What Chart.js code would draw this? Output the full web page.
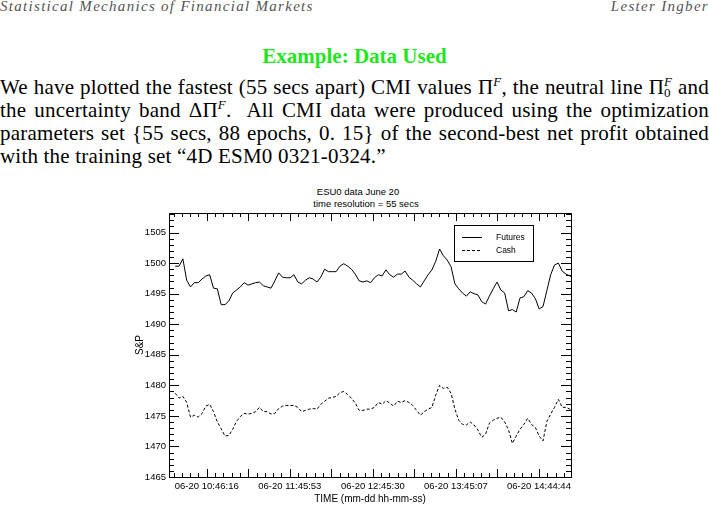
<!DOCTYPE html>
<html>
<head>
<meta charset="utf-8">
<script src="https://cdn.jsdelivr.net/npm/chart.js@4.4.1/dist/chart.umd.min.js"></script>
<style>
  html, body { margin: 0; padding: 0; background: #fff; }
  body { width: 709px; height: 505px; position: relative; overflow: hidden;
         font-family: "Liberation Serif", "Times New Roman", serif; color: #000; }
  .hdr { position: absolute; top: -2px; font-style: italic; font-size: 15px; color: #555; letter-spacing: 1.3px; }
  #hdrL { left: 0; }
  #hdrR { right: 0; }
  #title { position: absolute; top: 44px; left: 0; width: 709px; text-align: center;
           font-weight: bold; font-size: 21px; color: #1ee61e; }
  #para { position: absolute; top: 76px; left: 0; width: 709px; font-size: 21px; line-height: 23px; letter-spacing: 0.2px; }
  .ln { text-align: justify; text-align-last: justify; white-space: nowrap; height: 23px; }
  .ln.last { text-align: left; text-align-last: left; }
  sup { font-size: 13px; line-height: 0; vertical-align: 8px; }
  .ss { display: inline-block; font-size: 13px; line-height: 11px; vertical-align: -3px; text-align: center; }
  .ct { position: absolute; width: 200px; text-align: center;
        font-family: "Liberation Sans", Arial, sans-serif; font-size: 9.5px; line-height: 12px; }
  #c { position: absolute; left: 130px; top: 200px; }
</style>
</head>
<body>
<div class="hdr" id="hdrL">Statistical Mechanics of Financial Markets</div>
<div class="hdr" id="hdrR">Lester Ingber</div>
<div id="title">Example: Data Used</div>
<div id="para">
  <div class="ln">We have plotted the fastest (55 secs apart) CMI values &Pi;<sup><i>F</i></sup>, the neutral line &Pi;<span class="ss"><i>F</i><br>0</span> and</div>
  <div class="ln">the uncertainty band &Delta;&Pi;<sup><i>F</i></sup>.&nbsp; All CMI data were produced using the optimization</div>
  <div class="ln">parameters set {55 secs, 88 epochs, 0. 15} of the second-best net profit obtained</div>
  <div class="ln last">with the training set &ldquo;4D ESM0 0321-0324.&rdquo;</div>
</div>
<div class="ct" style="left:258px;top:186px">ESU0 data June 20</div>
<div class="ct" style="left:266px;top:198px">time resolution = 55 secs</div>
<canvas id="c" width="470" height="305"></canvas>
<script>
// sampled every 3rd 55-sec quote
const startTime = "10:23:38";
const stepSecs = 165;
const xRange = ["10:19:11", "15:07:43"];
const xTickLabels = ["06-20 10:46:16", "06-20 11:45:53", "06-20 12:45:30", "06-20 13:45:07", "06-20 14:44:44"];
const yTickValues = [1465, 1470, 1475, 1480, 1485, 1490, 1495, 1500, 1505];
const yRange = [1465, 1508.2];

const futures = [
  1499.5, 1499.5, 1500.7, 1497.2, 1496.1, 1496.8, 1496.8, 1497.4, 1497.9, 1498.1,
  1495.9, 1495.8, 1493.2, 1493.2, 1493.8, 1495.1, 1495.6, 1496.1, 1496.8, 1496.4,
  1496.6, 1496.8, 1496.9, 1496.3, 1496.1, 1495.9, 1497.1, 1498.4, 1497.7, 1497.6,
  1497.6, 1498.1, 1496.9, 1496.6, 1497.2, 1497.6, 1497.4, 1496.9, 1497.7, 1499.0,
  1498.6, 1498.6, 1498.6, 1499.5, 1499.9, 1499.5, 1499.0, 1498.2, 1497.1, 1496.9,
  1497.1, 1496.8, 1497.6, 1498.1, 1497.9, 1498.9, 1498.1, 1497.7, 1498.2, 1498.2,
  1498.7, 1497.7, 1497.2, 1496.6, 1496.1, 1497.1, 1498.1, 1498.9, 1500.3, 1502.3,
  1501.2, 1500.5, 1499.4, 1496.6, 1495.8, 1495.1, 1494.6, 1495.3, 1495.0, 1494.8,
  1493.7, 1493.3, 1494.6, 1495.8, 1496.9, 1495.6, 1495.1, 1492.2, 1492.4, 1492.0,
  1494.3, 1494.5, 1495.5, 1495.1, 1494.2, 1492.5, 1492.9, 1495.5, 1498.1, 1499.7,
  1500.0, 1498.7, 1498.2, 1497.9, 1497.6
];
const cash = [
  1478.7, 1477.9, 1478.2, 1477.2, 1474.8, 1475.1, 1474.8, 1475.4, 1476.6, 1476.9,
  1475.7, 1474.0, 1472.9, 1471.7, 1471.8, 1472.8, 1474.1, 1474.9, 1475.4, 1475.3,
  1475.4, 1475.7, 1476.4, 1475.7, 1475.7, 1475.3, 1475.4, 1476.2, 1476.6, 1476.7,
  1476.7, 1476.7, 1476.4, 1475.7, 1475.9, 1476.1, 1476.2, 1476.1, 1476.9, 1477.4,
  1477.9, 1478.0, 1478.2, 1478.8, 1479.0, 1478.5, 1477.9, 1477.1, 1475.9, 1475.9,
  1476.1, 1476.1, 1476.4, 1477.2, 1476.9, 1477.5, 1477.1, 1476.6, 1477.4, 1477.2,
  1477.5, 1477.2, 1476.7, 1475.9, 1475.1, 1475.7, 1476.1, 1476.4, 1478.4, 1480.0,
  1479.5, 1479.7, 1478.7, 1476.1, 1474.3, 1473.6, 1473.5, 1474.0, 1473.5, 1472.7,
  1471.5, 1472.0, 1473.8, 1474.3, 1474.6, 1474.8, 1474.0, 1472.7, 1470.5, 1471.7,
  1472.8, 1473.6, 1474.6, 1473.6, 1473.1, 1471.7, 1470.9, 1474.1, 1475.3, 1476.4,
  1477.7, 1476.4, 1476.4, 1476.1, 1476.1
];

function toSecs(s) {
  const hms = s.split(" ").pop().split(":").map(Number);
  return hms[0] * 3600 + hms[1] * 60 + hms[2];
}

const t0 = toSecs(startTime);
const series = vals => vals.map((v, i) => ({ x: t0 + i * stepSecs, y: v }));
const xTickSecs = xTickLabels.map(toSecs);

// IDL-style box with inward major/minor ticks, plus the boxed legend
const frameTicks = {
  id: "frameTicks",
  afterDraw(chart) {
    const { ctx, chartArea: a, scales: { x, y } } = chart;
    const px = v => Math.round(v) + 0.5;
    ctx.save();
    ctx.strokeStyle = "#000";
    ctx.lineWidth = 1;
    ctx.setLineDash([]);
    ctx.strokeRect(px(a.left), px(a.top), Math.round(a.right) - Math.round(a.left), Math.round(a.bottom) - Math.round(a.top));

    ctx.beginPath();
    for (let v = Math.ceil(y.min); v <= y.max; v++) {
      const len = yTickValues.includes(v) ? 10 : 5;
      const py = px(y.getPixelForValue(v));
      ctx.moveTo(a.left, py); ctx.lineTo(a.left + len, py);
      ctx.moveTo(a.right, py); ctx.lineTo(a.right - len, py);
    }
    const major = (xTickSecs[1] - xTickSecs[0]) / 2;
    let m = xTickSecs[0];
    while (m - major > x.min) m -= major;
    m -= major;
    for (let k = 0; m + k * major / 5 <= x.max; k++) {
      const t = m + k * major / 5;
      if (t < x.min) continue;
      const len = k % 5 === 0 ? 8 : 4;
      const pxx = px(x.getPixelForValue(t));
      ctx.moveTo(pxx, a.bottom); ctx.lineTo(pxx, a.bottom - len);
      ctx.moveTo(pxx, a.top); ctx.lineTo(pxx, a.top + len);
    }
    ctx.stroke();

    // legend
    const bx = Math.round(a.right) - 117, by = Math.round(a.top) + 12;
    ctx.strokeRect(bx + 0.5, by + 0.5, 79, 36);
    ctx.font = "8.5px 'Liberation Sans', Arial, sans-serif";
    ctx.fillStyle = "#000";
    ctx.textBaseline = "middle";
    chart.data.datasets.forEach((ds, i) => {
      const ly = by + 12 + i * 13 + 0.5;
      ctx.setLineDash(ds.borderDash || []);
      ctx.beginPath();
      ctx.moveTo(bx + 8, ly); ctx.lineTo(bx + 28, ly);
      ctx.stroke();
      ctx.fillText(ds.label, bx + 42, ly);
    });
    ctx.restore();
  }
};

Chart.defaults.font.family = "'Liberation Sans', Arial, sans-serif";
Chart.defaults.color = "#000";

new Chart(document.getElementById("c"), {
  type: "line",
  data: {
    datasets: [
      { label: "Futures", data: series(futures), borderColor: "#000", borderWidth: 1, pointRadius: 0, tension: 0 },
      { label: "Cash", data: series(cash), borderColor: "#000", borderWidth: 1, borderDash: [3, 2], pointRadius: 0, tension: 0 }
    ]
  },
  options: {
    responsive: false,
    animation: false,
    events: [],
    layout: { padding: { top: 13, right: 29, left: 0, bottom: 0 } },
    plugins: { legend: { display: false }, tooltip: { enabled: false } },
    scales: {
      x: {
        type: "linear",
        min: toSecs(xRange[0]),
        max: toSecs(xRange[1]),
        grid: { display: false, drawTicks: false },
        border: { display: false },
        afterBuildTicks: s => { s.ticks = xTickSecs.map(v => ({ value: v })); },
        afterFit: s => { s.height = 28; },
        ticks: {
          autoSkip: false, maxRotation: 0, padding: 4,
          font: { size: 9.5 },
          callback: (v, i) => xTickLabels[i]
        },
        title: { display: true, text: "TIME (mm-dd hh-mm-ss)", font: { size: 10 }, padding: { top: 0, bottom: 0 } }
      },
      y: {
        min: yRange[0],
        max: yRange[1],
        grid: { display: false, drawTicks: false },
        border: { display: false },
        afterBuildTicks: s => { s.ticks = yTickValues.map(v => ({ value: v })); },
        afterFit: s => { s.width = 39; },
        ticks: { padding: 3, font: { size: 9.5 }, callback: v => String(v) },
        title: { display: true, text: "S&P", font: { size: 10 }, padding: { top: 4, bottom: 0 } }
      }
    }
  },
  plugins: [frameTicks]
});
</script>
</body>
</html>
